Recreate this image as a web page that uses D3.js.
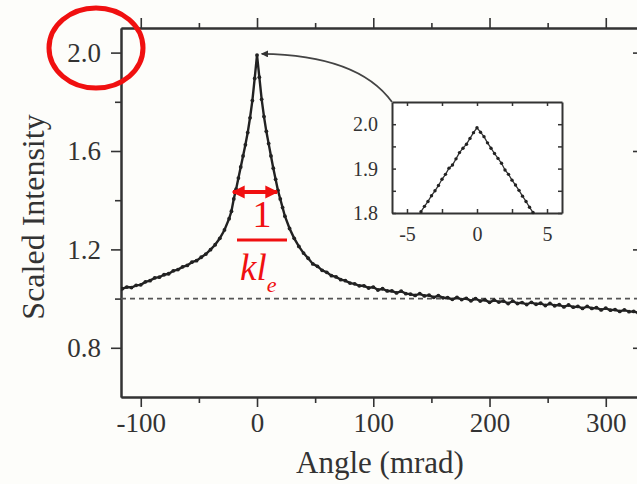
<!DOCTYPE html>
<html lang="en">
<head>
<meta charset="UTF-8">
<title>Scaled Intensity vs Angle</title>
<script src="https://d3js.org/d3.v7.min.js"></script>
<style>
    body { margin: 0; background: #fdfdfa; }
    text { font-family: "Liberation Serif", "Times New Roman", serif; fill: #333; }
    .axis path, .axis line { stroke: #333; }
    .axis path { stroke-width: 2px; }
    .axis line { stroke-width: 1.6px; }
</style>
</head>
<body>
<svg width="637" height="484"></svg>
<script>
// main curve (angle in mrad, scaled intensity)
const angles = [
    -116, -112, -108, -104, -100, -96, -92, -88, -84, -80, -76, -72, -68, -64, -60, -56, -52, -48, -44, -40, -36, -32, -28, -24,
    -22, -20, -18, -16, -14, -12, -10, -8, -6, -4, -2, 0, 2, 4, 6, 8, 10, 12, 14, 16, 18, 20, 22,
    24, 28, 32, 36, 40, 44, 48, 52, 56, 60, 64, 68, 72, 76, 80, 84, 88, 92, 96, 100,
    104, 108, 112, 116, 120, 124, 128, 132, 136, 140, 144, 148, 152, 156, 160, 164, 168, 172, 176, 180,
    184, 188, 192, 196, 200, 204, 208, 212, 216, 220, 224, 228, 232, 236, 240, 244, 248, 252, 256, 260,
    264, 268, 272, 276, 280, 284, 288, 292, 296, 300, 304, 308, 312, 316, 320, 324, 328
];
const intensity = [
    1.040, 1.047, 1.045, 1.054, 1.056, 1.068, 1.073, 1.084, 1.087, 1.097, 1.101, 1.113, 1.118, 1.129, 1.135, 1.148, 1.154, 1.168, 1.181, 1.199, 1.219, 1.245, 1.279, 1.325,
    1.355, 1.405, 1.445, 1.490, 1.535, 1.580, 1.625, 1.675, 1.735, 1.805, 1.895, 1.990, 1.900, 1.810, 1.740, 1.680, 1.630, 1.580, 1.530, 1.485, 1.440, 1.405, 1.370,
    1.335, 1.285, 1.245, 1.212, 1.185, 1.164, 1.141, 1.131, 1.115, 1.107, 1.093, 1.088, 1.077, 1.073, 1.063, 1.060, 1.052, 1.052, 1.043, 1.047,
    1.035, 1.040, 1.031, 1.031, 1.023, 1.030, 1.020, 1.018, 1.013, 1.020, 1.011, 1.014, 1.005, 1.012, 1.003, 1.004, 0.997, 1.005, 0.996, 1.001,
    0.991, 1.000, 0.990, 0.995, 0.985, 0.994, 0.986, 0.990, 0.980, 0.990, 0.980, 0.984, 0.976, 0.985, 0.977, 0.981, 0.972, 0.980, 0.971, 0.975,
    0.966, 0.974, 0.965, 0.968, 0.960, 0.968, 0.960, 0.963, 0.954, 0.961, 0.953, 0.955, 0.948, 0.954, 0.947, 0.948, 0.942
];
const baseline = 1.0;

// inset (zoom on the peak)
const insetAngles = [
    -4.00, -3.75, -3.50, -3.25, -3.00, -2.75, -2.50, -2.25, -2.00, -1.75, -1.50, -1.25, -1.00, -0.75, -0.50, -0.25,
    0.00, 0.25, 0.50, 0.75, 1.00, 1.25, 1.50, 1.75, 2.00, 2.25, 2.50, 2.75, 3.00, 3.25, 3.50, 3.75, 4.00
];
const insetIntensity = [
    1.803, 1.815, 1.826, 1.839, 1.850, 1.862, 1.876, 1.887, 1.901, 1.908, 1.922, 1.936, 1.946, 1.955, 1.968, 1.981,
    1.992, 1.982, 1.972, 1.958, 1.946, 1.934, 1.923, 1.912, 1.897, 1.887, 1.874, 1.863, 1.851, 1.838, 1.826, 1.813, 1.801
];

const xTicks = [-100, 0, 100, 200, 300];
const xMinorTicks = [-50, 50, 150, 250];
const yTicks = [0.8, 1.2, 1.6, 2.0];
const yMinorTicks = [1.0, 1.4, 1.8];
const insetXTicks = [-5, 0, 5];
const insetXMinorTicks = [-2.5, 2.5];
const insetYTicks = [1.8, 1.9, 2.0];
const insetYMinorTicks = [1.85, 1.95];

const svg = d3.select("svg");
const pLeft = 121, pRight = 641, pTop = 28, pBottom = 397;

const x = d3.scaleLinear().domain([-117, 330.3]).range([pLeft, pRight]);
const y = d3.scaleLinear().domain([0.6, 2.1]).range([pBottom, pTop]);

const defs = svg.append("defs");
defs.append("clipPath").attr("id", "plotclip")
    .append("rect").attr("x", pLeft).attr("y", pTop).attr("width", pRight - pLeft).attr("height", pBottom - pTop);

// axes
function drawAxis(axis, tx, ty) {
    const g = svg.append("g").attr("class", "axis").attr("transform", `translate(${tx},${ty})`).call(axis);
    g.selectAll("text").style("font-size", "27px");
    return g;
}
const fmt = d => d3.format(".1f")(d);
drawAxis(d3.axisBottom(x).tickValues(xTicks).tickSize(10).tickSizeOuter(0).tickPadding(6).tickFormat(d => String(d)), 0, pBottom);
drawAxis(d3.axisBottom(x).tickValues(xMinorTicks).tickSize(6).tickSizeOuter(0).tickFormat(""), 0, pBottom);
drawAxis(d3.axisBottom(x).tickValues(xTicks).tickSize(-10).tickSizeOuter(0).tickFormat(""), 0, pTop);
drawAxis(d3.axisBottom(x).tickValues(xMinorTicks).tickSize(-5).tickSizeOuter(0).tickFormat(""), 0, pTop);
drawAxis(d3.axisLeft(y).tickValues(yTicks).tickSize(10).tickSizeOuter(0).tickPadding(10).tickFormat(fmt), pLeft, 0);
drawAxis(d3.axisLeft(y).tickValues(yMinorTicks).tickSize(6).tickSizeOuter(0).tickFormat(""), pLeft, 0);
drawAxis(d3.axisRight(y).tickValues(yTicks).tickSize(-8).tickSizeOuter(0).tickFormat(""), pRight, 0);

// axis titles
svg.append("text").attr("x", 380).attr("y", 473).attr("text-anchor", "middle")
    .style("font-size", "31px").text("Angle (mrad)");
svg.append("text").attr("transform", "translate(44,217) rotate(-90)").attr("text-anchor", "middle")
    .style("font-size", "32px").text("Scaled Intensity");

// dashed baseline
const plot = svg.append("g").attr("clip-path", "url(#plotclip)");
plot.append("line")
    .attr("x1", x(-117)).attr("x2", x(330.3))
    .attr("y1", y(baseline)).attr("y2", y(baseline))
    .attr("stroke", "#555").attr("stroke-width", 1.8).attr("stroke-dasharray", "5,4");

// main curve
const pts = angles.map((a, i) => [a, intensity[i]]);
plot.append("path").datum(pts)
    .attr("fill", "none").attr("stroke", "#222").attr("stroke-width", 2.4)
    .attr("d", d3.line().x(d => x(d[0])).y(d => y(d[1])));
plot.selectAll(".dot").data(pts).enter().append("circle")
    .attr("cx", d => x(d[0])).attr("cy", d => y(d[1])).attr("r", 1.9).attr("fill", "#222");

// inset
const ix = d3.scaleLinear().domain([-6.07, 6.07]).range([392, 562]);
const iy = d3.scaleLinear().domain([1.8, 2.05]).range([213, 102]);
svg.append("rect").attr("x", 392).attr("y", 102).attr("width", 170).attr("height", 111)
    .attr("fill", "#fff").attr("stroke", "none");

function insetAxis(axis, tx, ty, withText) {
    const g = svg.append("g").attr("class", "axis").attr("transform", `translate(${tx},${ty})`).call(axis);
    g.select("path").style("stroke-width", "2px");
    g.selectAll("line").style("stroke-width", "1.5px");
    if (withText) g.selectAll("text").style("font-size", "20px");
    return g;
}
insetAxis(d3.axisBottom(ix).tickValues(insetXTicks.concat(insetXMinorTicks)).tickSize(-4).tickSizeOuter(0).tickPadding(14)
    .tickFormat(d => insetXTicks.includes(d) ? String(d) : ""), 0, 213, true);
insetAxis(d3.axisTop(ix).tickValues(insetXTicks.concat(insetXMinorTicks)).tickSize(-4).tickSizeOuter(0).tickFormat(""), 0, 102);
insetAxis(d3.axisLeft(iy).tickValues(insetYTicks.concat(insetYMinorTicks)).tickSize(-4).tickSizeOuter(0).tickPadding(14)
    .tickFormat(d => insetYTicks.includes(d) ? d3.format(".1f")(d) : ""), 392, 0, true);
insetAxis(d3.axisRight(iy).tickValues(insetYTicks.concat(insetYMinorTicks)).tickSize(-4).tickSizeOuter(0).tickFormat(""), 562, 0);

const ipts = insetAngles.map((a, i) => [a, insetIntensity[i]]);
svg.append("path").datum(ipts)
    .attr("fill", "none").attr("stroke", "#333").attr("stroke-width", 1.3)
    .attr("d", d3.line().x(d => ix(d[0])).y(d => iy(d[1])));
svg.selectAll(".idot").data(ipts).enter().append("circle")
    .attr("cx", d => ix(d[0])).attr("cy", d => iy(d[1])).attr("r", 1.7).attr("fill", "#222");

// curved arrow from inset to peak
defs.append("marker").attr("id", "blackhead").attr("viewBox", "0 0 10 10")
    .attr("refX", 9).attr("refY", 5).attr("markerWidth", 10).attr("markerHeight", 7)
    .attr("markerUnits", "userSpaceOnUse").attr("orient", "auto")
    .append("path").attr("d", "M0,0 L10,5 L0,10 z").attr("fill", "#333");
svg.append("path")
    .attr("d", `M392,102 Q358,55 ${x(4)},${y(1.995)}`)
    .attr("fill", "none").attr("stroke", "#444").attr("stroke-width", 1.8)
    .attr("marker-end", "url(#blackhead)");

// red annotations
svg.append("ellipse").attr("cx", 96).attr("cy", 48).attr("rx", 47).attr("ry", 40)
    .attr("fill", "none").attr("stroke", "#f01010").attr("stroke-width", 5);

defs.append("marker").attr("id", "redhead").attr("viewBox", "0 0 10 10")
    .attr("refX", 9).attr("refY", 5).attr("markerWidth", 13).attr("markerHeight", 14)
    .attr("markerUnits", "userSpaceOnUse").attr("orient", "auto-start-reverse")
    .append("path").attr("d", "M0,0 L10,5 L0,10 z").attr("fill", "#f01010");
svg.append("line").attr("x1", 233).attr("x2", 277).attr("y1", 192).attr("y2", 192)
    .attr("stroke", "#f01010").attr("stroke-width", 4)
    .attr("marker-start", "url(#redhead)").attr("marker-end", "url(#redhead)");

svg.append("text").attr("x", 262).attr("y", 227).attr("text-anchor", "middle")
    .style("font-size", "38px").style("fill", "#f01010").text("1");
svg.append("line").attr("x1", 237).attr("x2", 287).attr("y1", 240).attr("y2", 240)
    .attr("stroke", "#f01010").attr("stroke-width", 3);
const kl = svg.append("text").attr("x", 240).attr("y", 280)
    .style("font-size", "37px").style("font-style", "italic").style("fill", "#f01010");
kl.append("tspan").text("kl");
kl.append("tspan").attr("dy", 12).style("font-size", "22px").style("fill", "#f01010").text("e");
</script>
</body>
</html>
